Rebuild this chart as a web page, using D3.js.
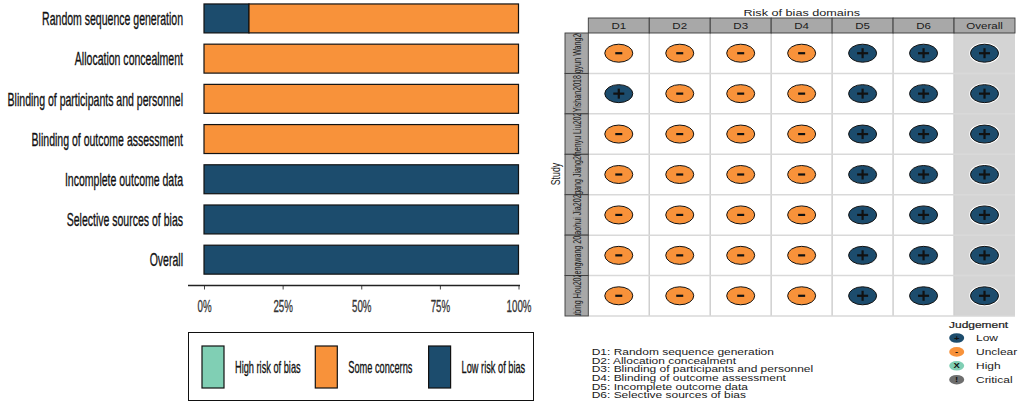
<!DOCTYPE html>
<html>
<head>
<meta charset="utf-8">
<script src="https://cdn.jsdelivr.net/npm/d3@7"></script>
<style>
  body { margin: 0; background: #fff; }
  svg { display: block; font-family: "Liberation Sans", Arial, sans-serif; }
</style>
</head>
<body>
<svg id="chart" width="1021" height="404"></svg>
<script>
// ---- summary plot data (percent of studies) ----
const domainLabels = [
  "Random sequence generation",
  "Allocation concealment",
  "Blinding of participants and personnel",
  "Blinding of outcome assessment",
  "Incomplete outcome data",
  "Selective sources of bias",
  "Overall"
];
const lowPct  = [14.3, 0, 0, 0, 100, 100, 100];
const somePct = [85.7, 100, 100, 100, 0, 0, 0];
const highPct = [0, 0, 0, 0, 0, 0, 0];
const xTicks = [0, 25, 50, 75, 100];
const summaryLegend = ["High risk of bias", "Some concerns", "Low risk of bias"];

// ---- traffic light data ----
const studies = [
  "Mingyun Wang2020",
  "Yishan2018",
  "Zhenyu Liu2020",
  "Zhigang Jiang2019",
  "Baohui Jia2020",
  "Zhengwang 2020",
  "Yubing Hou2020"
];
const domainCodes = ["D1", "D2", "D3", "D4", "D5", "D6", "Overall"];
const judgements = [
  ["Unclear", "Unclear", "Unclear", "Unclear", "Low", "Low", "Low"],
  ["Low",     "Unclear", "Unclear", "Unclear", "Low", "Low", "Low"],
  ["Unclear", "Unclear", "Unclear", "Unclear", "Low", "Low", "Low"],
  ["Unclear", "Unclear", "Unclear", "Unclear", "Low", "Low", "Low"],
  ["Unclear", "Unclear", "Unclear", "Unclear", "Low", "Low", "Low"],
  ["Unclear", "Unclear", "Unclear", "Unclear", "Low", "Low", "Low"],
  ["Unclear", "Unclear", "Unclear", "Unclear", "Low", "Low", "Low"]
];
const domainKey = [
  "D1: Random sequence generation",
  "D2: Allocation concealment",
  "D3: Blinding of participants and personnel",
  "D4: Blinding of outcome assessment",
  "D5: Incomplete outcome data",
  "D6: Selective sources of bias"
];
const judgementLevels = ["Low", "Unclear", "High", "Critical"];
const judgementSymbols = ["+", "-", "X", "!"];

// colours
const colLow = "#1c4c6d", colSome = "#f8923a", colHigh = "#80cfb4", colCrit = "#6e6e6e";
const judgeColour = d3.scaleOrdinal().domain(judgementLevels).range([colLow, colSome, colHigh, colCrit]);
const judgeSymbol = d3.scaleOrdinal().domain(judgementLevels).range(judgementSymbols);

const svg = d3.select("#chart");

// the picture is squashed on the left and stretched on the right
const sxLeft = 0.56, sxRight = 1.36;

// ===== left: summary bar plot =====
const x = d3.scaleLinear().domain([0, 100]).range([204, 518.5]);
const y = d3.scaleBand().domain(domainLabels).range([-7.3, 285.4]).padding(0.28);

const rows = domainLabels.map((d, i) => ({ domain: d, low: lowPct[i], some: somePct[i], high: highPct[i] }));
const stack = d3.stack().keys(["low", "some", "high"])(rows);
const fillFor = { low: colLow, some: colSome, high: colHigh };

const left = svg.append("g").attr("class", "summary");
stack.forEach(layer => {
  left.append("g").selectAll("rect")
    .data(layer.filter(p => p[1] - p[0] > 0))
    .join("rect")
    .attr("x", p => x(p[0]))
    .attr("y", p => y(p.data.domain))
    .attr("width", p => x(p[1]) - x(p[0]))
    .attr("height", y.bandwidth())
    .attr("fill", fillFor[layer.key])
    .attr("stroke", "#111")
    .attr("stroke-width", 1.2);
});

// domain labels
left.append("g").selectAll("text")
  .data(domainLabels)
  .join("text")
  .attr("transform", d => `translate(183,${y(d) + y.bandwidth() / 2}) scale(${sxLeft},1)`)
  .attr("text-anchor", "end")
  .attr("dy", "0.36em")
  .attr("font-size", 18.8)
  .attr("fill", "#111")
  .attr("stroke", "#111").attr("stroke-width", 0.35)
  .text(d => d);

// x axis
const axisY = 285.5;
const axis = left.append("g")
  .attr("transform", `translate(0,${axisY})`)
  .call(d3.axisBottom(x).tickValues(xTicks).tickFormat(d => d + "%").tickSize(4));
axis.select(".domain").remove();
axis.append("line")
  .attr("x1", 188).attr("x2", 520)
  .attr("stroke", "#222").attr("stroke-width", 1.5);
axis.selectAll(".tick line").attr("stroke", "#444");
axis.selectAll(".tick text")
  .attr("y", 26.5).attr("dy", 0)
  .attr("font-size", 17.4)
  .attr("font-family", "Liberation Sans, Arial, sans-serif")
  .attr("fill", "#333")
  .attr("stroke", "#333").attr("stroke-width", 0.3)
  .attr("transform", `scale(${sxLeft},1)`);

// legend box
const lg = left.append("g").attr("class", "summary-legend");
lg.append("rect")
  .attr("x", 188.5).attr("y", 332.5).attr("width", 345).attr("height", 68)
  .attr("fill", "#fff").attr("stroke", "#111").attr("stroke-width", 1);
const legendX = d3.scalePoint().domain(summaryLegend).range([202, 428.6]);
const legendFill = d3.scaleOrdinal().domain(summaryLegend).range([colHigh, colSome, colLow]);
const items = lg.selectAll("g.item").data(summaryLegend).join("g").attr("class", "item");
items.append("rect")
  .attr("x", d => legendX(d)).attr("y", 346)
  .attr("width", 22).attr("height", 42)
  .attr("fill", d => legendFill(d))
  .attr("stroke", "#111").attr("stroke-width", 1.2);
items.append("text")
  .attr("transform", d => `translate(${legendX(d) + 33},367) scale(${sxLeft},1)`)
  .attr("dy", "0.36em")
  .attr("font-size", 16.5)
  .attr("fill", "#111")
  .attr("stroke", "#111").attr("stroke-width", 0.3)
  .text(d => d);

// ===== right: traffic light plot =====
const xr = d3.scaleBand().domain(domainCodes).range([588.3, 1015]);
const yr = d3.scaleBand().domain(studies).range([33, 316]);
const right = svg.append("g").attr("class", "traffic");

// overall column background
right.append("rect")
  .attr("x", xr("Overall")).attr("y", yr.range()[0])
  .attr("width", xr.bandwidth()).attr("height", yr.range()[1] - yr.range()[0])
  .attr("fill", "#d4d4d4");

// grid lines at cell borders
const xEdges = domainCodes.map(d => xr(d)).concat([xr.range()[1]]);
const yEdges = studies.map(d => yr(d)).concat([yr.range()[1]]);
right.append("g").selectAll("line")
  .data(xEdges.slice(1, -1))
  .join("line")
  .attr("x1", d => d).attr("x2", d => d)
  .attr("y1", yr.range()[0]).attr("y2", yr.range()[1])
  .attr("stroke", "#cfcfcf").attr("stroke-width", 1.5);
right.append("g").selectAll("line")
  .data(yEdges.slice(1))
  .join("line")
  .attr("x1", xr.range()[0]).attr("x2", xr.range()[1])
  .attr("y1", d => d).attr("y2", d => d)
  .attr("stroke", "#d9d9d9").attr("stroke-width", 1.5);

// header strip
const header = right.append("g");
header.selectAll("rect")
  .data(domainCodes)
  .join("rect")
  .attr("x", d => xr(d)).attr("y", 18)
  .attr("width", xr.bandwidth()).attr("height", 15)
  .attr("fill", "#a8a8a8").attr("stroke", "#3a3a3a").attr("stroke-width", 0.9);
header.selectAll("text")
  .data(domainCodes)
  .join("text")
  .attr("transform", d => `translate(${xr(d) + xr.bandwidth() / 2},25.7) scale(${sxRight},1)`)
  .attr("text-anchor", "middle")
  .attr("dy", "0.36em")
  .attr("font-size", 8.5)
  .attr("fill", "#1a1a1a")
  .text(d => d);

right.append("text")
  .attr("transform", `translate(801.7,13) scale(${sxRight},1)`)
  .attr("text-anchor", "middle")
  .attr("dy", "0.36em")
  .attr("font-size", 9.3)
  .attr("fill", "#1a1a1a")
  .text("Risk of bias domains");

// study strip (labels clipped to each cell)
const strip = right.append("g");
const defs = svg.append("defs");
studies.forEach((s, i) => {
  defs.append("clipPath").attr("id", "strip" + i)
    .append("rect")
    .attr("x", 565).attr("y", yr(s))
    .attr("width", 23.3).attr("height", yr.bandwidth());
});
strip.selectAll("rect")
  .data(studies)
  .join("rect")
  .attr("x", 565).attr("y", d => yr(d))
  .attr("width", 23.3).attr("height", yr.bandwidth())
  .attr("fill", "#a8a8a8").attr("stroke", "#3a3a3a").attr("stroke-width", 0.9);
strip.selectAll("g.lab")
  .data(studies)
  .join("g")
  .attr("class", "lab")
  .attr("clip-path", (d, i) => `url(#strip${i})`)
  .append("text")
  .attr("transform", d => `translate(576.6,${yr(d) + yr.bandwidth() / 2}) scale(1.6,1) rotate(-90)`)
  .attr("text-anchor", "middle")
  .attr("dy", "0.36em")
  .attr("font-size", 7.1)
  .attr("fill", "#1a1a1a")
  .text(d => d);

right.append("text")
  .attr("transform", `translate(556,174) scale(${sxRight},1) rotate(-90)`)
  .attr("text-anchor", "middle")
  .attr("dy", "0.36em")
  .attr("font-size", 8.8)
  .attr("fill", "#1a1a1a")
  .text("Study");

// judgement points
const cells = [];
studies.forEach((s, i) => domainCodes.forEach((d, j) => cells.push({ study: s, domain: d, value: judgements[i][j] })));
const pts = right.append("g").selectAll("g.pt")
  .data(cells)
  .join("g")
  .attr("class", "pt")
  .attr("transform", c => `translate(${xr(c.domain) + xr.bandwidth() / 2},${yr(c.study) + yr.bandwidth() / 2})`);
pts.append("ellipse")
  .attr("rx", 14.5).attr("ry", 9.6)
  .attr("fill", "none").attr("stroke", "#fff").attr("stroke-width", 1.6);
pts.append("ellipse")
  .attr("rx", 14).attr("ry", 9)
  .attr("fill", c => judgeColour(c.value))
  .attr("stroke", "#111").attr("stroke-width", 1);
pts.append("line")
  .attr("x1", c => c.value === "Low" ? -5.5 : -3.5)
  .attr("x2", c => c.value === "Low" ? 5.5 : 3.5)
  .attr("stroke", "#111").attr("stroke-width", 2.2);
pts.filter(c => c.value === "Low").append("line")
  .attr("y1", -5).attr("y2", 5)
  .attr("stroke", "#111").attr("stroke-width", 2.2);

// domain key
right.append("g").selectAll("text")
  .data(domainKey)
  .join("text")
  .attr("transform", (d, i) => `translate(591.7,${351.7 + i * 8.7}) scale(${sxRight},1)`)
  .attr("dy", "0.36em")
  .attr("font-size", 8.8)
  .attr("fill", "#1a1a1a")
  .text(d => d);

// judgement legend
const jl = right.append("g");
jl.append("text")
  .attr("transform", `translate(949,324.7) scale(${sxRight},1)`)
  .attr("dy", "0.36em")
  .attr("font-size", 8.8)
  .attr("fill", "#1a1a1a")
  .attr("stroke", "#1a1a1a").attr("stroke-width", 0.2)
  .text("Judgement");
const jy = d3.scalePoint().domain(judgementLevels).range([338, 379.7]);
const keys = jl.selectAll("g.key").data(judgementLevels).join("g")
  .attr("class", "key")
  .attr("transform", d => `translate(956.7,${jy(d)})`);
keys.append("ellipse")
  .attr("rx", 7.5).attr("ry", 4.8)
  .attr("fill", d => judgeColour(d));
keys.append("text")
  .attr("transform", `scale(${sxRight},1)`)
  .attr("text-anchor", "middle")
  .attr("dy", "0.36em")
  .attr("font-size", 7)
  .attr("font-weight", "bold")
  .attr("fill", "#111")
  .text(d => judgeSymbol(d));
keys.append("text")
  .attr("transform", `translate(19.3,0) scale(${sxRight},1)`)
  .attr("dy", "0.36em")
  .attr("font-size", 8.8)
  .attr("fill", "#1a1a1a")
  .text(d => d);
</script>
</body>
</html>
